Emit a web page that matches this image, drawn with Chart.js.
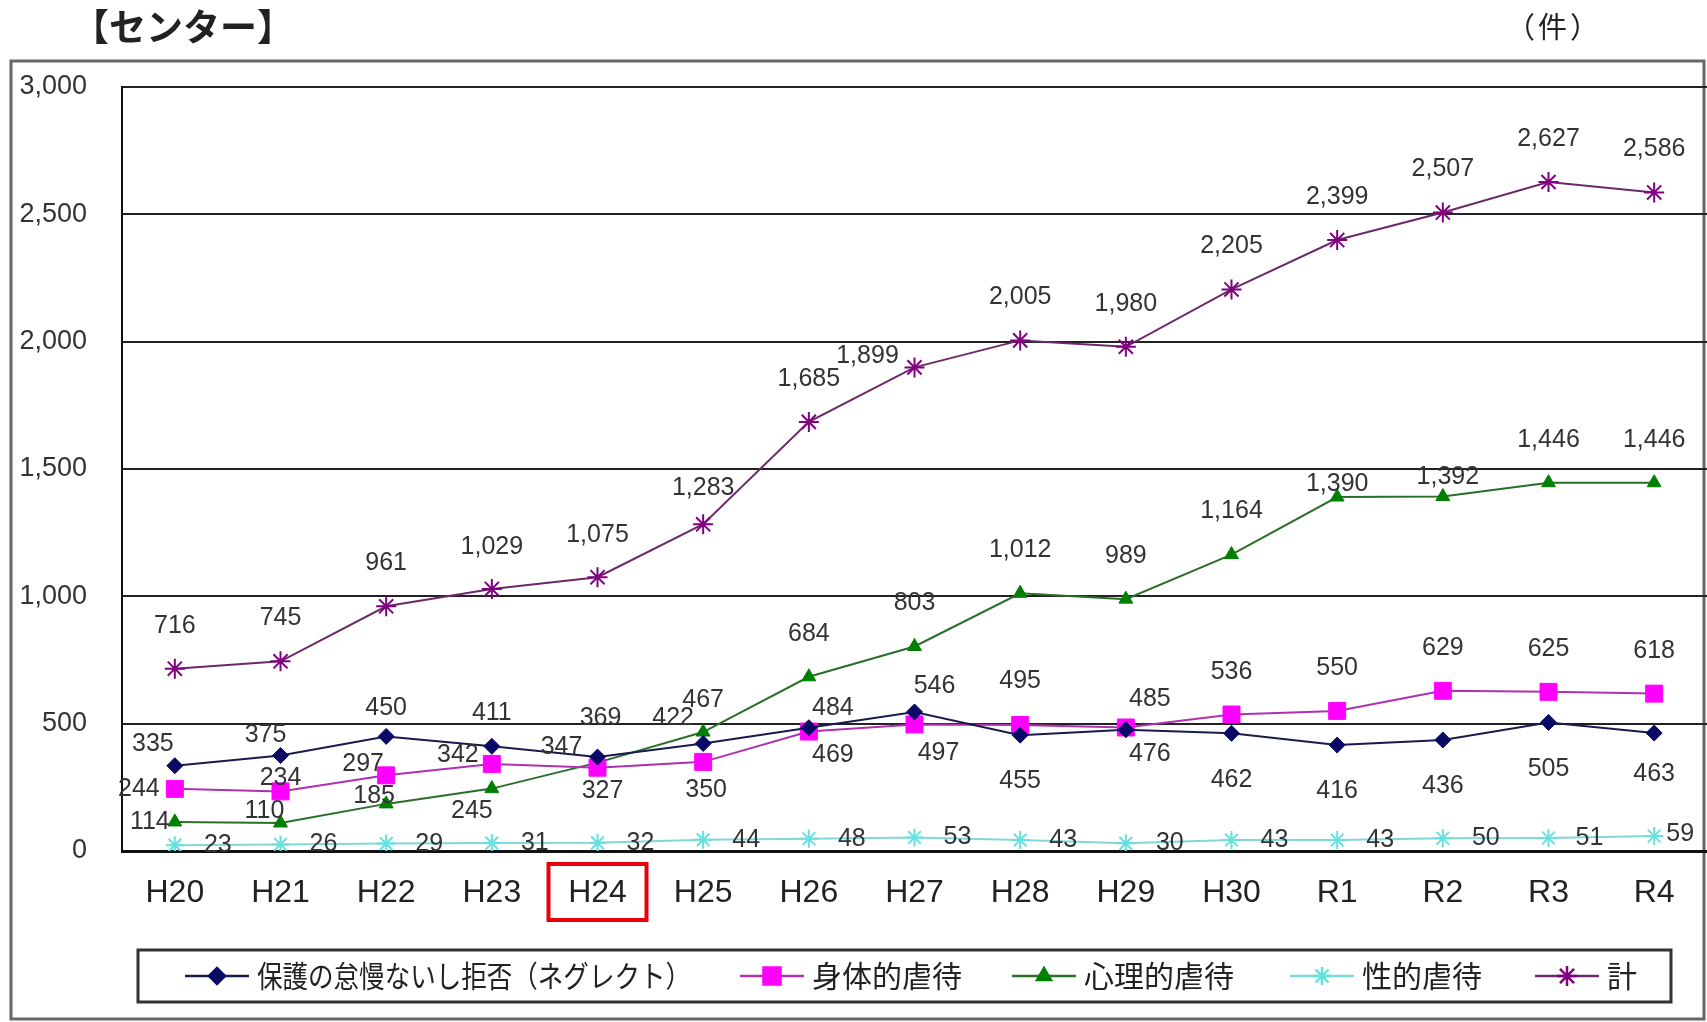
<!DOCTYPE html>
<html lang="ja">
<head>
<meta charset="UTF-8">
<title>児童虐待相談対応件数（センター）</title>
<script src="https://cdn.jsdelivr.net/npm/chart.js"></script>
<style>
  body { margin: 0; background: #fff; overflow: hidden; }
  canvas { display: block; }
</style>
</head>
<body>
<canvas id="chart" width="1707" height="1022"></canvas>
<script>
// 年度
const years = ['H20', 'H21', 'H22', 'H23', 'H24', 'H25', 'H26', 'H27', 'H28', 'H29', 'H30', 'R1', 'R2', 'R3', 'R4'];

// 種別ごとの件数
const neglect       = [335, 375, 450, 411, 369, 422, 484, 546, 455, 476, 462, 416, 436, 505, 463];
const physical      = [244, 234, 297, 342, 327, 350, 469, 497, 495, 485, 536, 550, 629, 625, 618];
const psychological = [114, 110, 185, 245, 347, 467, 684, 803, 1012, 989, 1164, 1390, 1392, 1446, 1446];
const sexual        = [23, 26, 29, 31, 32, 44, 48, 53, 43, 30, 43, 43, 50, 51, 59];
const total         = [716, 745, 961, 1029, 1075, 1283, 1685, 1899, 2005, 1980, 2205, 2399, 2507, 2627, 2586];

// 縦軸
const yMin = 0;
const yMax = 3000;
const yStep = 500;

// 強調する年度
const highlightYear = 'H24';

// 数値ラベルの位置（点からのずれ px）
const neglectLabelPos = [[-22,-22],[-15,-20],[0,-28],[0,-33],[3,-39],[-30,-25],[24,-20],[20,-26],[0,46],[24,24],[0,47],[0,46],[0,46],[0,47],[0,41]];
const physicalLabelPos = [[-36,0],[0,-13],[-23,-11],[-34,-9],[5,23],[3,28],[24,24],[24,29],[0,-44],[24,-28],[0,-42],[0,-43],[0,-43],[0,-43],[0,-43]];
const psychLabelPos = [[-25,0],[-16,-12],[-12,-8],[-20,23],[-36,-16],[0,-32],[0,-43],[0,-43],[0,-43],[0,-43],[0,-43],[0,-13],[5,-19],[0,-43],[0,-43]];
const sexualLabelPos = [[43,0],[43,0],[43,0],[43,0],[43,0],[43,0],[43,0],[43,0],[43,0],[44,0],[43,0],[43,0],[43,0],[41,0],[26,-2]];
const totalLabelPos = [[0,-43],[0,-43],[0,-43],[0,-42],[0,-42],[0,-36],[0,-43],[-47,-11],[0,-43],[0,-43],[0,-43],[0,-43],[0,-43],[0,-43],[0,-43]];

// 凡例の各項目の開始位置
const legendX = [185, 740, 1012, 1290, 1535];

const numFont = '"Liberation Sans", Arial, sans-serif';
const jpFont = '"Noto Sans CJK JP", sans-serif';

function fmt(v) {
  return v.toLocaleString('en-US');
}

// 点の数値ラベル
const valueLabels = {
  id: 'valueLabels',
  afterDatasetsDraw(chart) {
    const ctx = chart.ctx;
    ctx.save();
    ctx.font = '25px ' + numFont;
    ctx.fillStyle = '#333';
    ctx.textAlign = 'center';
    ctx.textBaseline = 'middle';
    chart.data.datasets.forEach((ds, i) => {
      const meta = chart.getDatasetMeta(i);
      meta.data.forEach((pt, j) => {
        const off = ds.labelPos[j];
        ctx.fillText(fmt(ds.data[j]), pt.x + off[0], pt.y + off[1]);
      });
    });
    ctx.restore();
  }
};

// 枠・見出し・凡例・強調枠
const decorations = {
  id: 'decorations',
  beforeDraw(chart) {
    const ctx = chart.ctx;
    ctx.save();
    ctx.fillStyle = '#fff';
    ctx.fillRect(0, 0, chart.width, chart.height);
    ctx.strokeStyle = '#666';
    ctx.lineWidth = 3;
    ctx.strokeRect(11, 61, 1693, 958);
    ctx.fillStyle = '#222';
    ctx.textBaseline = 'middle';
    ctx.font = 'bold 37px ' + jpFont;
    ctx.fillText('【センター】', 72, 27);
    ctx.font = '29px ' + jpFont;
    ctx.letterSpacing = '3px';
    ctx.fillText('（件）', 1506, 27);
    ctx.restore();
  },
  afterDraw(chart) {
    const ctx = chart.ctx;
    const xs = chart.scales.x;
    ctx.save();

    // 強調する年度の枠
    const hx = xs.getPixelForValue(years.indexOf(highlightYear));
    ctx.strokeStyle = '#e8000b';
    ctx.lineWidth = 4;
    ctx.strokeRect(hx - 49, 864, 98, 56);

    // 凡例
    ctx.strokeStyle = '#333';
    ctx.lineWidth = 3;
    ctx.strokeRect(138, 950, 1533, 52);
    ctx.font = '30px ' + jpFont;
    ctx.textBaseline = 'middle';
    const ly = 976;
    chart.data.datasets.forEach((ds, i) => {
      const lx = legendX[i];
      ctx.strokeStyle = ds.borderColor;
      ctx.lineWidth = 2.5;
      ctx.beginPath();
      ctx.moveTo(lx, ly);
      ctx.lineTo(lx + 64, ly);
      ctx.stroke();
      ctx.fillStyle = ds.pointBackgroundColor;
      ctx.strokeStyle = ds.pointBorderColor;
      Chart.helpers.drawPoint(ctx, {
        pointStyle: ds.pointStyle, radius: ds.pointRadius, borderWidth: ds.pointBorderWidth, rotation: 0
      }, lx + 32, ly);
      ctx.fillStyle = '#222';
      ctx.fillText(ds.label, lx + 72, ly, 434);
    });
    ctx.restore();
  }
};

function series(label, data, line, fill, style, radius, labelPos) {
  return {
    label: label,
    data: data,
    borderColor: line,
    borderWidth: 2,
    pointStyle: style,
    pointRadius: radius,
    pointHoverRadius: radius,
    pointBackgroundColor: fill,
    pointBorderColor: fill,
    pointBorderWidth: style === 'star' ? 2 : 1,
    tension: 0,
    labelPos: labelPos
  };
}

new Chart(document.getElementById('chart'), {
  type: 'line',
  data: {
    labels: years,
    datasets: [
      series('保護の怠慢ないし拒否（ネグレクト）', neglect, '#1a1a4d', '#0a0a66', 'rectRot', 8, neglectLabelPos),
      series('身体的虐待', physical, '#b030b0', '#ff00ff', 'rect', 12, physicalLabelPos),
      series('心理的虐待', psychological, '#2a6e2a', '#008000', 'triangle', 8, psychLabelPos),
      series('性的虐待', sexual, '#80d8d8', '#66e0e0', 'star', 9, sexualLabelPos),
      series('計', total, '#6a2a6a', '#800080', 'star', 10, totalLabelPos)
    ]
  },
  options: {
    responsive: false,
    animation: false,
    events: [],
    layout: { autoPadding: false, padding: { top: 87, right: 0, bottom: 0, left: 0 } },
    plugins: {
      legend: { display: false },
      tooltip: { enabled: false }
    },
    scales: {
      x: {
        offset: true,
        grid: { display: false, drawTicks: false },
        border: { display: true, color: '#111', width: 3 },
        ticks: { color: '#222', padding: 23, font: { family: numFont, size: 32 } },
        afterFit(scale) { scale.height = 171; }
      },
      y: {
        min: yMin,
        max: yMax,
        grid: { color: '#222', lineWidth: 2, drawTicks: false },
        border: { display: true, color: '#111', width: 2 },
        ticks: {
          stepSize: yStep,
          color: '#333',
          padding: 35,
          font: { family: numFont, size: 27 },
          callback: v => fmt(v)
        },
        afterFit(scale) { scale.width = 122; }
      }
    }
  },
  plugins: [decorations, valueLabels]
});
</script>
</body>
</html>
